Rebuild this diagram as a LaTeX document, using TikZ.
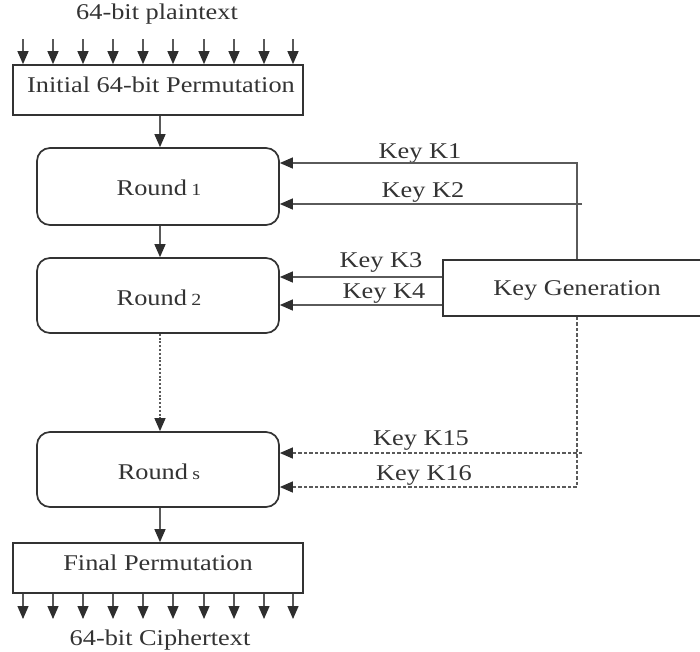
\documentclass[tikz,border=0pt]{standalone}
\usepackage{fontspec}
\setmainfont{Liberation Serif}
\usetikzlibrary{arrows.meta,calc}
\definecolor{ink}{HTML}{333333}
\definecolor{wire}{HTML}{5A5A5A}
\definecolor{tip}{HTML}{2E2E2E}
\newcommand{\wtxt}[1]{\scalebox{1.17}[1]{#1}}
\newcommand{\smalldigit}[1]{{\fontsize{17}{17}\selectfont #1}}
\tikzset{
  x=1pt, y=-1pt,
  lbl/.style={inner sep=0pt, text=ink, font=\fontsize{22.5}{24}\selectfont},
  plainbox/.style={draw=ink, line width=1.7pt, inner sep=0pt},
  roundbox/.style={plainbox, rounded corners=13pt},
  arr/.style={draw=wire, line width=1.3pt,
    -{Triangle[length=13pt,width=11pt,fill=tip,color=tip]}},
  dotarr/.style={arr, dash pattern=on 2pt off 1.8pt},
  dasharr/.style={arr, dash pattern=on 3.5pt off 2pt},
}
\begin{document}
\begin{tikzpicture}
\useasboundingbox (0,0) rectangle (700,651);
\clip (0,0) rectangle (700,651);

% main chain of boxes
\node[plainbox, minimum width=290pt, minimum height=50pt] (ini) at (158,90) {};
\node[roundbox, minimum width=242pt, minimum height=77pt] (r1) at (158,186.5) {};
\node[roundbox, minimum width=242pt, minimum height=75pt] (r2) at (158,295.5) {};
\node[roundbox, minimum width=242pt, minimum height=75pt] (r3) at (158,469.5) {};
\node[plainbox, minimum width=290pt, minimum height=50pt] (fin) at (158,568) {};
\node[plainbox, minimum width=270pt, minimum height=56pt] (kg) at (578,288) {};

% texts
\node[lbl] (tin)  at (157,14)  {\wtxt{64-bit plaintext}};
\node[lbl] (tini) at (161,85)  {\wtxt{Initial 64-bit Permutation}};
\node[lbl] (tr1)  at (159,188) {\wtxt{Round\,\smalldigit{1}}};
\node[lbl] (tr2)  at (159,298) {\wtxt{Round\,\smalldigit{2}}};
\node[lbl] (tr3)  at (159,472) {\wtxt{Round\,\smalldigit{s}}};
\node[lbl] (tfin) at (158,563) {\wtxt{Final Permutation}};
\node[lbl] (tout) at (160,640) {\wtxt{64-bit Ciphertext}};
\node[lbl] (tkg)  at (577,290) {\wtxt{Key Generation}};
\node[lbl] (tk1)  at (420,153) {\wtxt{Key K1}};
\node[lbl] (tk2)  at (423,192) {\wtxt{Key K2}};
\node[lbl] (tk3)  at (381,262) {\wtxt{Key K3}};
\node[lbl] (tk4)  at (384,294) {\wtxt{Key K4}};
\node[lbl] (tk15) at (421,440) {\wtxt{Key K15}};
\node[lbl] (tk16) at (424,475) {\wtxt{Key K16}};

% 64 input and output bit lines
\foreach \x in {23,53,83,113,143,173,204,234,264,293} {
  \draw[arr] (\x,39) -- (\x,39 |- ini.north);
  \draw[arr] (\x,39 |- fin.south) -- (\x,619);
}

% data path between the stages
\draw[arr] (ini.south -| 160,0) -- (r1.north -| 160,0);
\draw[arr] (r1.south -| 160,0) -- (r2.north -| 160,0);
\draw[dotarr] (r2.south -| 160,0) -- (r3.north -| 160,0);
\draw[arr] (r3.south -| 160,0) -- (fin.north -| 160,0);

% round keys
\coordinate (k1) at (577,163);
\coordinate (k2) at (582,204);
\coordinate (k3) at (443,277);
\coordinate (k4) at (443,305);
\coordinate (k15) at (582,453);
\coordinate (k16) at (577,487);

\draw[arr] (kg.north -| k1) -- (k1) -- (r1.east |- k1);
\draw[arr] (k2) -- (r1.east |- k2);
\draw[arr] (kg.west |- k3) -- (r2.east |- k3);
\draw[arr] (kg.west |- k4) -- (r2.east |- k4);
\draw[dasharr] (k15) -- (r3.east |- k15);
\draw[dasharr] (kg.south -| k16) -- (k16) -- (r3.east |- k16);
\end{tikzpicture}
\end{document}
